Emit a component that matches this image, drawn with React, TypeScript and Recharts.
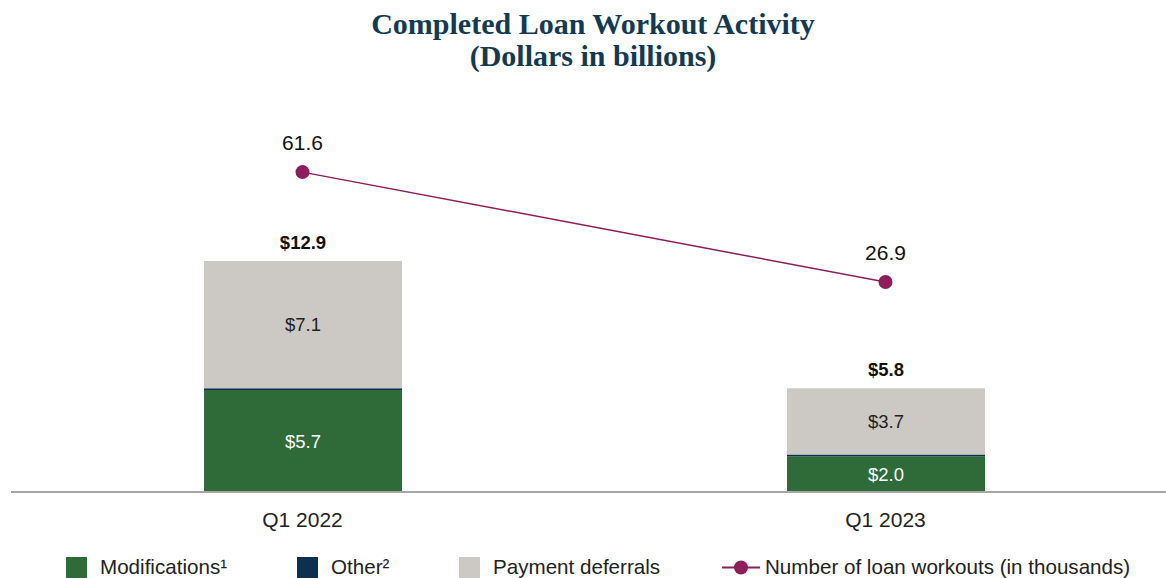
import { ComposedChart, Bar, Line, XAxis, YAxis, LabelList } from "recharts";

const quarters = ["Q1 2022", "Q1 2023"];
const modifications = [5.7, 2.0];
const other = [0.1, 0.1];
const paymentDeferrals = [7.1, 3.7];
const totals = [12.9, 5.8];
const loanWorkouts = [61.6, 26.9];

const GREEN = "#2E6B38";
const NAVY = "#0D3050";
const GRAY = "#CCC9C4";
const PLUM = "#8E1D5C";
const FONT = "'Liberation Sans', Arial, sans-serif";

const data = quarters.map((q, i) => ({
  name: q,
  modifications: modifications[i],
  other: other[i],
  deferrals: paymentDeferrals[i],
  total: totals[i],
  workouts: loanWorkouts[i],
}));

const legendItems = [
  { label: "Modifications¹", color: GREEN, left: 66 },
  { label: "Other²", color: NAVY, left: 297 },
  { label: "Payment deferrals", color: GRAY, left: 459 },
];

function QuarterTick(props: any) {
  const { x, y, payload } = props;
  return (
    <text x={x} y={y + 27} textAnchor="middle" fontSize={21} fill="#222" fontFamily={FONT}>
      {payload.value}
    </text>
  );
}

function TotalLabel(props: any) {
  const { x, y, width, index } = props;
  return (
    <text x={x + width / 2} y={y - 12} textAnchor="middle" fontSize={18.5} fontWeight={700} fill="#111" fontFamily={FONT}>
      ${totals[index].toFixed(1)}
    </text>
  );
}

export default function App() {
  return (
    <div style={{ position: "absolute", left: 0, top: 0, width: 1166, height: 578, overflow: "hidden", background: "#fff" }}>
      <div
        style={{
          position: "absolute",
          top: 8,
          left: 10,
          width: 1166,
          textAlign: "center",
          fontFamily: "'Liberation Serif', 'DejaVu Serif', serif",
          fontWeight: 700,
          fontSize: 30,
          lineHeight: "32px",
          color: "#133A55",
        }}
      >
        Completed Loan Workout Activity
        <br />
        (Dollars in billions)
      </div>

      <ComposedChart
        width={1188}
        height={578}
        data={data}
        margin={{ top: 98, right: 11, left: 11, bottom: 56 }}
      >
        <XAxis
          dataKey="name"
          height={30}
          axisLine={{ stroke: "#A6A6A6", strokeWidth: 2 }}
          tickLine={false}
          tick={<QuarterTick />}
        />
        <YAxis yAxisId="left" hide domain={[0, 22]} />
        <YAxis yAxisId="right" orientation="right" hide domain={[-39.4, 85]} />
        <Bar yAxisId="left" dataKey="modifications" stackId="a" fill={GREEN} barSize={198} isAnimationActive={false}>
          <LabelList
            dataKey="modifications"
            position="center"
            formatter={(v: any) => `$${Number(v).toFixed(1)}`}
            fill="#fff"
            fontSize={18.5}
            fontFamily={FONT}
          />
        </Bar>
        <Bar yAxisId="left" dataKey="other" stackId="a" fill={NAVY} barSize={198} isAnimationActive={false} />
        <Bar yAxisId="left" dataKey="deferrals" stackId="a" fill={GRAY} barSize={198} isAnimationActive={false}>
          <LabelList
            dataKey="deferrals"
            position="center"
            formatter={(v: any) => `$${Number(v).toFixed(1)}`}
            fill="#222"
            fontSize={18.5}
            fontFamily={FONT}
          />
          <LabelList dataKey="total" content={<TotalLabel />} />
        </Bar>
        <Line
          yAxisId="right"
          dataKey="workouts"
          stroke={PLUM}
          strokeWidth={1.5}
          dot={{ r: 7, fill: PLUM, stroke: PLUM, strokeWidth: 0 }}
          isAnimationActive={false}
        >
          <LabelList dataKey="workouts" position="top" offset={22} fill="#111" fontSize={21} fontFamily={FONT} />
        </Line>
      </ComposedChart>

      <div style={{ position: "absolute", top: 555, left: 0, width: 1166, height: 23, fontFamily: FONT, fontSize: 20.6, color: "#222" }}>
        {legendItems.map((it) => (
          <div key={it.label} style={{ position: "absolute", left: it.left, top: 0, display: "flex", alignItems: "center" }}>
            <span style={{ display: "inline-block", width: 21, height: 21, background: it.color, marginRight: 13 }} />
            <span>{it.label}</span>
          </div>
        ))}
        <div style={{ position: "absolute", left: 722, top: 0, display: "flex", alignItems: "center" }}>
          <svg width={40} height={21} style={{ marginRight: 3 }}>
            <line x1={0} y1={10.5} x2={38} y2={10.5} stroke={PLUM} strokeWidth={2} />
            <circle cx={19} cy={10.5} r={7} fill={PLUM} />
          </svg>
          <span>Number of loan workouts (in thousands)</span>
        </div>
      </div>
    </div>
  );
}
